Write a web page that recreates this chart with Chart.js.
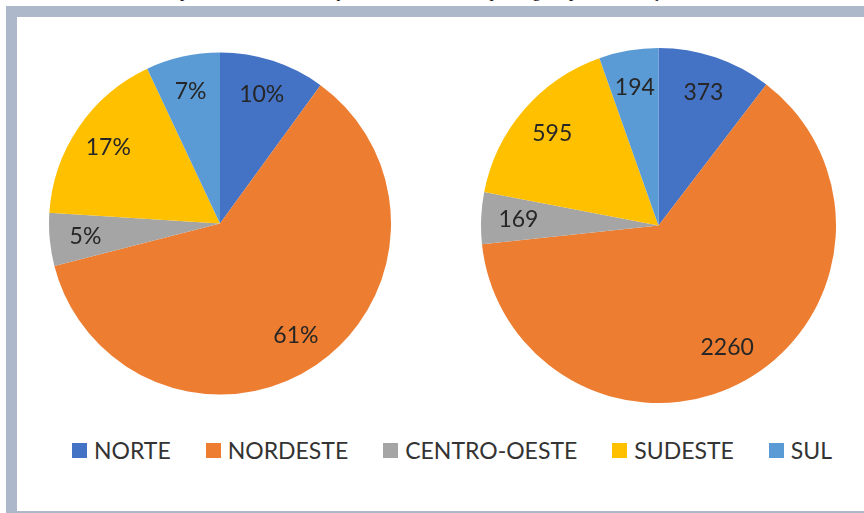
<!DOCTYPE html>
<html>
<head>
<meta charset="utf-8">
<script src="https://cdn.jsdelivr.net/npm/chart.js@4/dist/chart.umd.min.js"></script>
<style>
  html, body { margin: 0; padding: 0; background: #fff; }
  body { width: 864px; height: 513px; position: relative; overflow: hidden; }
  #topText {
    position: absolute; left: 0; top: -18px; white-space: nowrap;
    font-family: "Liberation Serif", serif; font-size: 17px; line-height: 20px; color: #111;
    word-spacing: 3px;
  }
  #frame {
    position: absolute; left: 6px; top: 6px; width: 900px; height: 494px;
    border-left: 11px solid #adb9ca; border-top: 11px solid #adb9ca; border-bottom: 3px solid #adb9ca;
    background: #fff;
  }
  .pie { position: absolute; }
  #legend {
    position: absolute; left: 72px; top: 436px; display: flex; align-items: center;
    font-family: Lato, sans-serif; font-size: 23px; color: #333; white-space: nowrap;
  }
  #legend .item { display: flex; align-items: center; margin-right: 35px; }
  #legend .box { width: 15px; height: 15px; margin-right: 7px; }
</style>
</head>
<body>
<div id="topText">e descrevem as medidas para as cem cidades que foram escolhidas por região por informação. Os</div>
<div id="frame"></div>
<div class="pie" style="left:49px;top:52px;width:342px;height:343px;"><canvas id="leftPie" width="342" height="343"></canvas></div>
<div class="pie" style="left:481px;top:48px;width:355px;height:355px;"><canvas id="rightPie" width="355" height="355"></canvas></div>
<div id="legend"></div>

<script>
var regions = ["NORTE", "NORDESTE", "CENTRO-OESTE", "SUDESTE", "SUL"];
var colors = ["#4472c4", "#ed7d31", "#a5a5a5", "#ffc000", "#5b9bd5"];
var percentValues = [10, 61, 5, 17, 7];
var countValues = [373, 2260, 169, 595, 194];

// draws the value inside each slice, like excel data labels
var sliceLabels = {
    id: 'sliceLabels',
    afterDatasetsDraw: function(chart) {
        var ctx = chart.ctx;
        var meta = chart.getDatasetMeta(0);
        var suffix = chart.options.labelSuffix || '';
        ctx.save();
        ctx.font = '23px Lato, sans-serif';
        ctx.fillStyle = '#262626';
        ctx.textAlign = 'center';
        ctx.textBaseline = 'middle';
        meta.data.forEach(function(arc, i) {
            var mid = (arc.startAngle + arc.endAngle) / 2;
            var r = arc.outerRadius * 0.79;
            var x = arc.x + Math.cos(mid) * r;
            var y = arc.y + Math.sin(mid) * r;
            ctx.fillText(chart.data.datasets[0].data[i] + suffix, x, y);
        });
        ctx.restore();
    }
};

function makePie(id, values, suffix) {
    var config = {
        type: 'pie',
        data: {
            labels: regions,
            datasets: [{
                data: values,
                backgroundColor: colors,
                borderWidth: 0,
                hoverOffset: 0
            }]
        },
        options: {
            responsive: false,
            animation: false,
            events: [],
            labelSuffix: suffix,
            plugins: {
                legend: { display: false },
                tooltip: { enabled: false }
            }
        },
        plugins: [sliceLabels]
    };
    return new Chart(document.getElementById(id), config);
}

makePie('leftPie', percentValues, '%');
makePie('rightPie', countValues, '');

// shared legend under both pies
var legend = document.getElementById('legend');
regions.forEach(function(name, i) {
    legend.insertAdjacentHTML('beforeend',
        '<div class="item"><span class="box" style="background:' + colors[i] + '"></span><span>' + name + '</span></div>');
});
</script>
</body>
</html>
